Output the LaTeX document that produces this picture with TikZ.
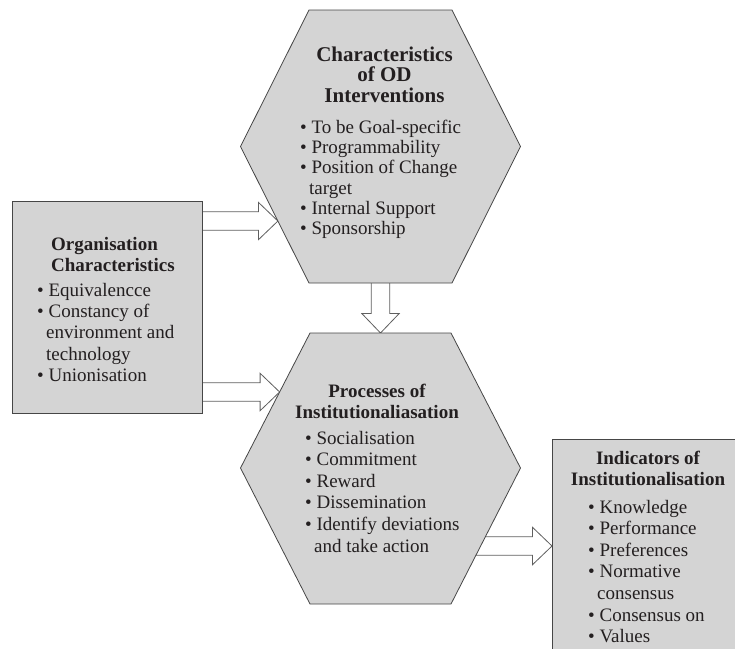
\documentclass[tikz,border=0pt]{standalone}
\usepackage{fontspec}
\setmainfont{Liberation Serif}
\usetikzlibrary{calc}

\definecolor{panelfill}{RGB}{212,212,212}
\definecolor{panelline}{RGB}{70,70,70}
\definecolor{inktext}{RGB}{35,31,32}
\definecolor{arrowline}{RGB}{95,95,95}

% a block of lines whose baseline is that of its first line
\newcommand\txtblock[2]{\begin{tabular}[t]{@{}#1@{}}#2\end{tabular}}
% indent for a wrapped bullet line
\newcommand\cont{\hspace*{9pt}}

% hollow block arrow from #1 (tail) to #2 (tip)
\newcommand\hollowarrow[2]{%
  \coordinate (ha-neck) at ($(#2)!19.5pt!(#1)$);
  \draw[blockarrow]
    ($(#1)!9.3pt!90:(#2)$) -- ($(ha-neck)!9.3pt!90:(#2)$) --
    ($(ha-neck)!18.7pt!90:(#2)$) -- (#2) --
    ($(ha-neck)!18.7pt!-90:(#2)$) -- ($(ha-neck)!9.3pt!-90:(#2)$) --
    ($(#1)!9.3pt!-90:(#2)$);}

\tikzset{
  panel/.style={fill=panelfill, draw=panelline, line width=0.8pt},
  boxnode/.style={panel, inner sep=0pt, anchor=north west},
  blockarrow/.style={fill=white, draw=arrowline, line width=0.8pt, line join=miter},
  txt/.style={inner sep=0pt, text=inktext, font=\fontsize{19}{21.5}\selectfont},
  head/.style={inner sep=0pt, text=inktext, font=\fontsize{19}{21.5}\selectfont\bfseries},
}

\begin{document}
\begin{tikzpicture}[x=1pt, y=-1pt]
\useasboundingbox (0,0) rectangle (735,648);
\clip (0,0) rectangle (735,648);

% hexagon corners
\coordinate (t-nw) at (309,10);     \coordinate (t-ne) at (452,10);
\coordinate (t-e)  at (520.5,146.5);\coordinate (t-se) at (452,283);
\coordinate (t-sw) at (309,283);    \coordinate (t-w)  at (240.5,146.5);
\coordinate (b-nw) at (310,333);    \coordinate (b-ne) at (451,333);
\coordinate (b-e)  at (520.5,468);  \coordinate (b-se) at (451,604);
\coordinate (b-sw) at (310,604);    \coordinate (b-w)  at (240.5,468);

% rectangular panels
\node[boxnode, minimum width=190pt, minimum height=212pt] (org) at (12,201) {};
\node[boxnode, minimum width=200pt, minimum height=230pt] (ind) at (552,439) {};

% arrow end points
\coordinate (a1-tip)  at ($(t-w)!0.546!(t-sw)$);
\coordinate (a1-tail) at (org.east |- a1-tip);
\coordinate (a2-tip)  at ($(b-w)!0.563!(b-nw)$);
\coordinate (a2-tail) at (org.east |- a2-tip);
\coordinate (a3-tail) at ($(t-sw)!0.5!(t-se)$);
\coordinate (a3-tip)  at ($(b-nw)!0.5!(b-ne)$);
\coordinate (a4-tip)  at (ind.west |- 0,546);
\coordinate (a4-tail) at (a3-tip |- a4-tip);

% block arrows (drawn first so the panels cover their tails)
\hollowarrow{a1-tail}{a1-tip}
\hollowarrow{a2-tail}{a2-tip}
\hollowarrow{a3-tail}{a3-tip}
\hollowarrow{a4-tail}{a4-tip}

% hexagons
\path[panel] (t-nw) -- (t-ne) -- (t-e) -- (t-se) -- (t-sw) -- (t-w) -- cycle;
\path[panel] (b-nw) -- (b-ne) -- (b-e) -- (b-se) -- (b-sw) -- (b-w) -- cycle;
\draw[panelline, line width=0.8pt] (org.north west) rectangle (org.south east);

% Characteristics of OD Interventions
\node[head, font=\fontsize{21}{20.5}\selectfont\bfseries, anchor=base] (odi-head) at (384.5,61)
  {\txtblock{c}{Characteristics\\of OD\\Interventions}};
\node[txt, font=\fontsize{19}{20.3}\selectfont, anchor=base west] (odi-list) at (300,133.3)
  {\txtblock{l}{• To be Goal-specific\\• Programmability\\• Position of Change\\\cont target\\• Internal Support\\• Sponsorship}};

% Organisation Characteristics
\node[head, anchor=base west] (org-head) at (51,250)
  {\txtblock{l}{Organisation\\Characteristics}};
\node[txt, font=\fontsize{19}{21.4}\selectfont, anchor=base west] (org-list) at (37,296)
  {\txtblock{l}{• Equivalencce\\• Constancy of\\\cont environment and\\\cont technology\\• Unionisation}};

% Processes of Institutionaliasation
\node[head, anchor=base] (proc-head) at (377,397)
  {\txtblock{c}{Processes of\\Institutionaliasation}};
\node[txt, font=\fontsize{19}{21.6}\selectfont, anchor=base west] (proc-list) at (305,444)
  {\txtblock{l}{• Socialisation\\• Commitment\\• Reward\\• Dissemination\\• Identify deviations\\\cont and take action}};

% Indicators of Institutionalisation
\node[head, anchor=base] (ind-head) at (648,464)
  {\txtblock{c}{Indicators of\\Institutionalisation}};
\node[txt, font=\fontsize{19}{21.6}\selectfont, anchor=base west] (ind-list) at (588,513)
  {\txtblock{l}{• Knowledge\\• Performance\\• Preferences\\• Normative\\\cont consensus\\• Consensus on\\• Values}};
\end{tikzpicture}
\end{document}
